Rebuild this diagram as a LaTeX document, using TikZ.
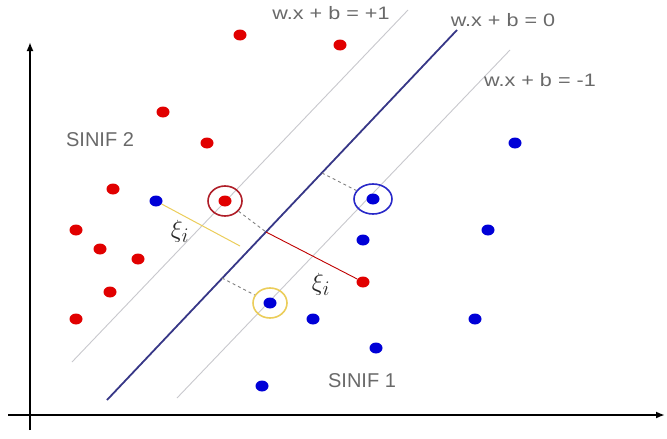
\documentclass[tikz,border=0pt]{standalone}
\usepackage{fontspec}
\setmainfont{Liberation Sans}
\usetikzlibrary{shapes.geometric,arrows.meta}
\definecolor{dotred}{RGB}{225,0,0}
\definecolor{dotblue}{RGB}{0,0,215}
\definecolor{hyper}{RGB}{55,55,135}
\definecolor{margin}{RGB}{200,200,205}
\definecolor{lbl}{RGB}{105,105,105}
\definecolor{ylw}{RGB}{235,205,90}
\definecolor{ringred}{RGB}{175,30,40}
\definecolor{ringblue}{RGB}{40,40,200}
\newcommand{\widetxt}[1]{\scalebox{1.2}[1]{#1}}
\tikzset{
  dotbase/.style={ellipse, minimum width=13pt, minimum height=11pt, inner sep=0pt},
  reddot/.style={dotbase, fill=dotred},
  bluedot/.style={dotbase, fill=dotblue},
  ring/.style={ellipse, draw, line width=1.6pt, minimum width=34pt, minimum height=30pt, inner sep=0pt},
  axis/.style={line width=2.2pt, -{Latex[length=9pt,width=7pt]}},
  marginline/.style={draw=margin, line width=0.9pt},
  eqlabel/.style={text=lbl, font=\fontsize{18}{21}\selectfont},
  classlabel/.style={text=lbl, font=\fontsize{20}{24}\selectfont},
  xilabel/.style={text=black!85, font=\fontsize{28}{32}\selectfont},
  distdash/.style={draw=gray, dashed, dash pattern=on 3pt off 3pt, line width=0.9pt}
}
\begin{document}
\begin{tikzpicture}[x=1pt,y=-1pt]
\useasboundingbox (0,0) rectangle (667,439);
% axes
\coordinate (ax0) at (30,430);
\coordinate (ayt) at (30,42);
\coordinate (axl) at (8,415);
\coordinate (axr) at (665,415);
\draw[axis] (ax0) -- (ayt);
\draw[axis] (axl) -- (axr);
% hyperplanes
\coordinate (p1) at (72,362); \coordinate (p2) at (408,10);
\coordinate (h1) at (107,400); \coordinate (h2) at (457,30);
\coordinate (n1) at (177,398); \coordinate (n2) at (510,50);
\draw[marginline] (p1) -- (p2);
\draw[marginline] (n1) -- (n2);
\draw[draw=hyper, line width=1.8pt] (h1) -- (h2);
% labels
\node[eqlabel] (lp) at (331,13) {\widetxt{w.x + b = +1}};
\node[eqlabel] (l0) at (503,20) {\widetxt{w.x + b = 0}};
\node[eqlabel] (lm) at (540,80) {\widetxt{w.x + b = -1}};
\node[classlabel] (s2) at (100,140) {SINIF 2};
\node[classlabel] (s1) at (362,381) {SINIF 1};
% red points
\node[reddot] (r1) at (240,35) {};
\node[reddot] (r2) at (340,45) {};
\node[reddot] (r3) at (163,112) {};
\node[reddot] (r4) at (207,143) {};
\node[reddot] (r5) at (113,189) {};
\node[reddot] (r6) at (225,201) {};
\node[reddot] (r7) at (76,230) {};
\node[reddot] (r8) at (100,249) {};
\node[reddot] (r9) at (138,259) {};
\node[reddot] (r10) at (110,292) {};
\node[reddot] (r11) at (76,319) {};
\node[reddot] (r12) at (363,282) {};
% blue points
\node[bluedot] (b1) at (156,201) {};
\node[bluedot] (b2) at (270,303) {};
\node[bluedot] (b3) at (262,386) {};
\node[bluedot] (b4) at (515,143) {};
\node[bluedot] (b5) at (373,199) {};
\node[bluedot] (b6) at (363,240) {};
\node[bluedot] (b7) at (488,230) {};
\node[bluedot] (b8) at (313,319) {};
\node[bluedot] (b9) at (475,319) {};
\node[bluedot] (b10) at (376,348) {};
% support vector rings
\node[ring, draw=ringred] (c1) at (r6) {};
\node[ring, draw=ringblue, minimum width=38pt] (c2) at (b5) {};
\node[ring, draw=ylw] (c3) at (b2) {};
% distances
\coordinate (m1) at (266,232);
\coordinate (m2) at (322,173);
\coordinate (m3) at (222,278);
\coordinate (y1) at (240,246);
\draw[distdash] (c1) -- (m1);
\draw[draw=dotred!85!black, line width=0.9pt] (m1) -- (r12);
\draw[distdash] (m2) -- (c2);
\draw[distdash] (m3) -- (c3);
\draw[draw=ylw, line width=1pt] (b1) -- (y1);
\node[xilabel] (x1) at (180,231) {$\xi_i$};
\node[xilabel] (x2) at (321,284) {$\xi_i$};
\end{tikzpicture}
\end{document}
